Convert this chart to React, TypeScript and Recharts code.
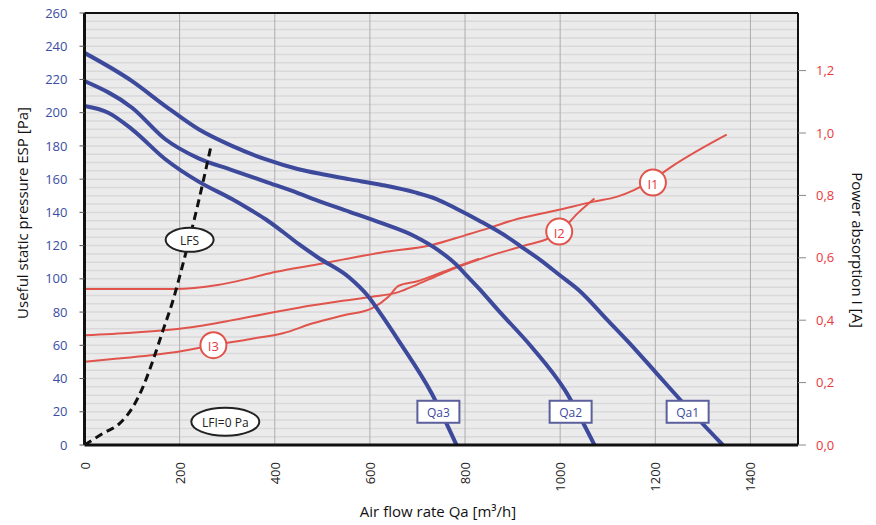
import React from 'react';
import { ComposedChart, Line, XAxis, YAxis, CartesianGrid, ReferenceLine, ReferenceDot } from 'recharts';

// axis ticks
const flowTicks = [0, 200, 400, 600, 800, 1000, 1200, 1400];
const espTicks = [0, 20, 40, 60, 80, 100, 120, 140, 160, 180, 200, 220, 240, 260];
const ampTicks = [0, 0.2, 0.4, 0.6, 0.8, 1.0, 1.2];

// fan curves (ESP, Pa)
const qa1Flow = [0, 100, 170, 240, 310, 380, 450, 500, 556, 625, 695, 740, 780, 830, 890, 920, 960, 1000, 1040, 1100, 1150, 1200, 1250, 1342];
const qa1Esp = [236, 219, 204, 190, 180, 172, 166, 163, 160, 156.5, 152, 148, 142.5, 135, 125, 119, 111, 102, 93, 75, 60, 44, 28, 0];

const qa2Flow = [0, 100, 170, 240, 310, 380, 450, 486, 556, 625, 695, 745, 780, 800, 830, 870, 940, 1010, 1072];
const qa2Esp = [219, 203, 184, 172.5, 165.5, 158.5, 151.5, 147.5, 140.5, 133.5, 125.5, 117, 109, 103, 94, 81, 59, 33, 0];

const qa3Flow = [0, 50, 100, 170, 240, 310, 346, 380, 416, 450, 490, 556, 595, 625, 660, 730, 782];
const qa3Esp = [204, 200, 190, 172, 158.5, 148, 142, 136, 128.5, 121, 113, 101, 90, 78, 63, 31, 0];

// LFS limit (dashed)
const lfsFlow = [0, 39, 74, 102, 123, 144, 165, 186, 207, 236, 256, 266];
const lfsEsp = [0, 7, 13, 23, 35, 51, 69, 87, 109, 142, 167, 180];

// current absorption (A)
const i1Flow = [0, 100, 190, 280, 346, 403, 486, 545, 625, 730, 800, 850, 900, 995, 1070, 1120, 1155, 1195, 1232, 1350];
const i1Amp = [0.5, 0.5, 0.5, 0.513, 0.534, 0.555, 0.578, 0.595, 0.617, 0.641, 0.672, 0.695, 0.72, 0.753, 0.78, 0.796, 0.817, 0.85, 0.89, 0.995];

const i2Flow = [0, 100, 208, 300, 348, 450, 543, 604, 660, 700, 745, 780, 830, 870, 918, 1000, 1035, 1072];
const i2Amp = [0.352, 0.36, 0.374, 0.397, 0.411, 0.44, 0.462, 0.475, 0.49, 0.515, 0.545, 0.567, 0.595, 0.615, 0.636, 0.684, 0.74, 0.79];

const i3Flow = [0, 70, 139, 200, 271, 350, 417, 480, 543, 604, 639, 660, 700, 745, 780, 830];
const i3Amp = [0.267, 0.277, 0.288, 0.3, 0.32, 0.34, 0.358, 0.39, 0.415, 0.438, 0.475, 0.51, 0.525, 0.55, 0.57, 0.597];

const zip = (xs: number[], ys: number[]) => xs.map((x, i) => ({ x, y: ys[i] }));

const BLUE = '#3d4a9c';
const RED = '#e0544c';
const FONT = '"Open Sans", sans-serif';

// light stripes every 5 Pa
const stripeValues = Array.from({ length: 53 }, (_, i) => i * 5);

const stripeCoords = (props: any) => {
    const { yAxis, offset } = props;
    if (yAxis && typeof yAxis.scale === 'function') return stripeValues.map((v) => yAxis.scale(v));
    return stripeValues.map((v) => offset.top + offset.height * (1 - v / 260));
};

const XTick = (props: any) => {
    const { x, y, payload } = props;
    return (
        <text x={x} y={y} transform={`rotate(-90 ${x} ${y})`} textAnchor="end" dominantBaseline="central"
            fontSize={13} fontFamily={FONT} fill="#222">
            {payload.value}
        </text>
    );
};

const boxShape = (label: string) => (props: any) => {
    const { cx, cy } = props;
    return (
        <g>
            <rect x={cx - 21} y={cy - 11} width={42} height={22} fill="#fff" stroke="#5b5f9c" strokeWidth={2} />
            <text x={cx} y={cy + 1} textAnchor="middle" dominantBaseline="central" fontSize={12} fontFamily={FONT} fill={BLUE}>{label}</text>
        </g>
    );
};

const circleShape = (label: string) => (props: any) => {
    const { cx, cy } = props;
    return (
        <g>
            <circle cx={cx} cy={cy} r={13} fill="#fff" stroke={RED} strokeWidth={2} />
            <text x={cx} y={cy + 1} textAnchor="middle" dominantBaseline="central" fontSize={13} fontFamily={FONT} fill="#e8383d">{label}</text>
        </g>
    );
};

const ellipseShape = (label: string, rx: number, ry: number) => (props: any) => {
    const { cx, cy } = props;
    return (
        <g>
            <ellipse cx={cx} cy={cy} rx={rx} ry={ry} fill="#fff" stroke="#222" strokeWidth={2} />
            <text x={cx} y={cy + 1} textAnchor="middle" dominantBaseline="central" fontSize={12} fontFamily={FONT} fill="#222">{label}</text>
        </g>
    );
};

export default function App() {
    return (
        <div style={{ position: 'absolute', left: 0, top: 0, width: 876, height: 525, background: '#fff' }}>
            <ComposedChart width={876} height={525} margin={{ top: 13, right: 0, left: 0, bottom: 0 }}>
                <CartesianGrid yAxisId="pa" fill="#ebebec" stroke="#d9d9db" strokeWidth={1.5}
                    horizontalCoordinatesGenerator={stripeCoords} vertical={false} />
                <CartesianGrid yAxisId="pa" stroke="#b3abab" strokeWidth={1} horizontal={false} verticalValues={flowTicks} />
                <XAxis type="number" dataKey="x" domain={[0, 1500]} ticks={flowTicks} height={80}
                    axisLine={{ stroke: '#111', strokeWidth: 3 }} tickLine={false} tickSize={0} tickMargin={17}
                    tick={<XTick />} allowDataOverflow />
                <YAxis yAxisId="pa" type="number" domain={[0, 260]} ticks={espTicks} width={84.5}
                    axisLine={{ stroke: '#111', strokeWidth: 3 }} tickLine={{ stroke: '#555' }} tickSize={5} tickMargin={12}
                    tick={{ fill: '#3a4ea3', fontSize: 13, fontFamily: FONT }} />
                <YAxis yAxisId="amp" orientation="right" type="number" domain={[0, 1.3846]} ticks={ampTicks} width={78}
                    axisLine={{ stroke: '#111', strokeWidth: 2 }} tickLine={{ stroke: '#888' }} tickSize={8} tickMargin={10}
                    tickFormatter={(v: number) => v.toFixed(1).replace('.', ',')}
                    tick={{ fill: '#e8383d', fontSize: 13, fontFamily: FONT, textAnchor: 'start' }} allowDataOverflow />
                <ReferenceLine yAxisId="pa" y={260} stroke="#111" strokeWidth={2} />

                <Line yAxisId="amp" data={zip(i1Flow, i1Amp)} dataKey="y" type="monotone" stroke={RED} strokeWidth={2} dot={false} isAnimationActive={false} />
                <Line yAxisId="amp" data={zip(i2Flow, i2Amp)} dataKey="y" type="monotone" stroke={RED} strokeWidth={2} dot={false} isAnimationActive={false} />
                <Line yAxisId="amp" data={zip(i3Flow, i3Amp)} dataKey="y" type="monotone" stroke={RED} strokeWidth={2} dot={false} isAnimationActive={false} />

                <Line yAxisId="pa" data={zip(qa1Flow, qa1Esp)} dataKey="y" type="monotone" stroke={BLUE} strokeWidth={4} dot={false} isAnimationActive={false} />
                <Line yAxisId="pa" data={zip(qa2Flow, qa2Esp)} dataKey="y" type="monotone" stroke={BLUE} strokeWidth={4} dot={false} isAnimationActive={false} />
                <Line yAxisId="pa" data={zip(qa3Flow, qa3Esp)} dataKey="y" type="monotone" stroke={BLUE} strokeWidth={4} dot={false} isAnimationActive={false} />
                <Line yAxisId="pa" data={zip(lfsFlow, lfsEsp)} dataKey="y" type="monotone" stroke="#111" strokeWidth={3} strokeDasharray="8 5" dot={false} isAnimationActive={false} />

                <ReferenceDot yAxisId="pa" x={744} y={20} shape={boxShape('Qa3')} ifOverflow="visible" />
                <ReferenceDot yAxisId="pa" x={1022} y={20} shape={boxShape('Qa2')} ifOverflow="visible" />
                <ReferenceDot yAxisId="pa" x={1268} y={20} shape={boxShape('Qa1')} ifOverflow="visible" />
                <ReferenceDot yAxisId="amp" x={1195} y={0.841} shape={circleShape('I1')} ifOverflow="visible" />
                <ReferenceDot yAxisId="amp" x={998} y={0.684} shape={circleShape('I2')} ifOverflow="visible" />
                <ReferenceDot yAxisId="amp" x={271} y={0.32} shape={circleShape('I3')} ifOverflow="visible" />
                <ReferenceDot yAxisId="pa" x={221} y={123.5} shape={ellipseShape('LFS', 24, 12)} ifOverflow="visible" />
                <ReferenceDot yAxisId="pa" x={296} y={14} shape={ellipseShape('LFI=0 Pa', 34, 14)} ifOverflow="visible" />
            </ComposedChart>
            <svg width={876} height={525} style={{ position: 'absolute', left: 0, top: 0, pointerEvents: 'none' }}>
                <text x={438} y={511} textAnchor="middle" dominantBaseline="central" fontSize={15} fontFamily={FONT} fill="#111">
                    Air flow rate Qa [m³/h]
                </text>
                <text x={22} y={213} transform="rotate(-90 22 213)" textAnchor="middle" dominantBaseline="central" fontSize={15} fontFamily={FONT} fill="#111">
                    Useful static pressure ESP [Pa]
                </text>
                <text x={858} y={250} transform="rotate(90 858 250)" textAnchor="middle" dominantBaseline="central" fontSize={15} fontFamily={FONT} fill="#111">
                    Power absorption I [A]
                </text>
            </svg>
        </div>
    );
}
